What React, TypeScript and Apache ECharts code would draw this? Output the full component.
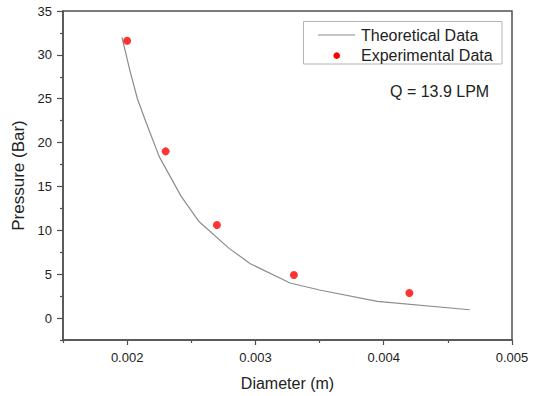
import React, { useEffect, useRef } from "react";
import * as echarts from "echarts";

const theoDiameter = [0.00196, 0.00202, 0.00208, 0.00215, 0.00225, 0.00242, 0.00256, 0.00279, 0.00296, 0.00327, 0.0035, 0.00395, 0.00467];
const theoPressure = [32.0, 28.3, 25.0, 22.2, 18.4, 13.9, 11.0, 8.0, 6.2, 4.0, 3.2, 1.9, 0.95];

const expDiameter = [0.002, 0.0023, 0.0027, 0.0033, 0.0042];
const expPressure = [31.6, 19.0, 10.6, 4.9, 2.85];

const xMajorTicks = [0.002, 0.003, 0.004, 0.005];
const xMinorTicks = [0.0015, 0.0025, 0.0035, 0.0045];
const yMajorTicks = [0, 5, 10, 15, 20, 25, 30, 35];
const yMinorTicks = [-2.5, 2.5, 7.5, 12.5, 17.5, 22.5, 27.5, 32.5];

const FONT = "'Liberation Sans', Arial, sans-serif";
const AXIS_COLOR = "#505050";
const TEXT_COLOR = "#222";

export default function App() {
  const ref = useRef<HTMLDivElement>(null);
  useEffect(() => {
    if (!ref.current) return;
    const chart = echarts.init(ref.current, null, { renderer: "svg" });
    const xRange = { min: 0.0015, max: 0.005 };
    const yRange = { min: -2.5, max: 35 };
    chart.setOption({
      animation: false,
      textStyle: { fontFamily: FONT },
      grid: {
        left: 63,
        right: 24,
        top: 11,
        bottom: 55,
        show: true,
        borderColor: AXIS_COLOR,
        borderWidth: 1.5,
        backgroundColor: "transparent",
      },
      xAxis: [
        {
          type: "value",
          ...xRange,
          name: "Diameter (m)",
          nameLocation: "middle",
          nameGap: 35,
          nameTextStyle: { fontSize: 16, color: TEXT_COLOR, fontFamily: FONT },
          axisLine: { show: true, onZero: false, lineStyle: { color: AXIS_COLOR, width: 1.5 } },
          axisTick: { show: true, customValues: xMajorTicks, length: 5, inside: false, lineStyle: { color: AXIS_COLOR, width: 1.2 } },
          axisLabel: {
            customValues: xMajorTicks,
            color: TEXT_COLOR,
            margin: 11,
            fontSize: 13,
            fontFamily: FONT,
            formatter: (v: number) => String(Number(v.toFixed(4))),
          },
          splitLine: { show: false },
        },
        {
          type: "value",
          ...xRange,
          position: "bottom",
          axisLine: { show: false, onZero: false },
          axisTick: { show: true, customValues: xMinorTicks, length: 3, inside: false, lineStyle: { color: AXIS_COLOR, width: 1.2 } },
          axisLabel: { show: false },
          splitLine: { show: false },
        },
      ],
      yAxis: [
        {
          type: "value",
          ...yRange,
          name: "Pressure (Bar)",
          nameLocation: "middle",
          nameGap: 24,
          nameTextStyle: { fontSize: 17, color: TEXT_COLOR, fontFamily: FONT },
          axisLine: { show: true, onZero: false, lineStyle: { color: AXIS_COLOR, width: 1.5 } },
          axisTick: { show: true, customValues: yMajorTicks, length: 6, inside: false, lineStyle: { color: AXIS_COLOR, width: 1.2 } },
          axisLabel: { customValues: yMajorTicks, fontSize: 13, color: TEXT_COLOR, margin: 11, fontFamily: FONT },
          splitLine: { show: false },
        },
        {
          type: "value",
          ...yRange,
          position: "left",
          axisLine: { show: false, onZero: false },
          axisTick: { show: true, customValues: yMinorTicks, length: 3, inside: false, lineStyle: { color: AXIS_COLOR, width: 1.2 } },
          axisLabel: { show: false },
          splitLine: { show: false },
        },
      ],
      series: [
        {
          name: "Theoretical Data",
          type: "line",
          xAxisIndex: 0,
          yAxisIndex: 0,
          symbol: "none",
          smooth: false,
          lineStyle: { color: "#8c8c8c", width: 1.2 },
          data: theoDiameter.map((d, i) => [d, theoPressure[i]]),
          z: 2,
        },
        {
          name: "Experimental Data",
          type: "scatter",
          xAxisIndex: 0,
          yAxisIndex: 0,
          symbol: "circle",
          symbolSize: 8,
          itemStyle: { color: "#ff0000" },
          data: expDiameter.map((d, i) => [d, expPressure[i]]),
          z: 3,
        },
      ],
      graphic: [
        {
          type: "rect",
          shape: { x: 303.5, y: 21.5, width: 198.5, height: 42.5 },
          style: { fill: "#fff", stroke: "#b5b5b5", lineWidth: 1 },
          z: 10,
        },
        {
          type: "line",
          shape: { x1: 318, y1: 35, x2: 355, y2: 35 },
          style: { stroke: "#8c8c8c", lineWidth: 1.2 },
          z: 11,
        },
        {
          type: "circle",
          shape: { cx: 336.7, cy: 55.7, r: 3.3 },
          style: { fill: "#ff0000" },
          z: 11,
        },
        {
          type: "text",
          x: 361,
          y: 35,
          style: { text: "Theoretical Data", font: `16px ${FONT}`, fill: TEXT_COLOR, verticalAlign: "middle", align: "left" },
          z: 11,
        },
        {
          type: "text",
          x: 361,
          y: 55.7,
          style: { text: "Experimental Data", font: `16px ${FONT}`, fill: TEXT_COLOR, verticalAlign: "middle", align: "left" },
          z: 11,
        },
        {
          type: "text",
          x: 390,
          y: 91,
          style: { text: "Q = 13.9 LPM", font: `16px ${FONT}`, fill: TEXT_COLOR, verticalAlign: "middle", align: "left" },
          z: 11,
        },
      ],
    });
    return () => chart.dispose();
  }, []);
  return <div ref={ref} style={{ width: 536, height: 396, position: "absolute", left: 0, top: 0 }} />;
}
